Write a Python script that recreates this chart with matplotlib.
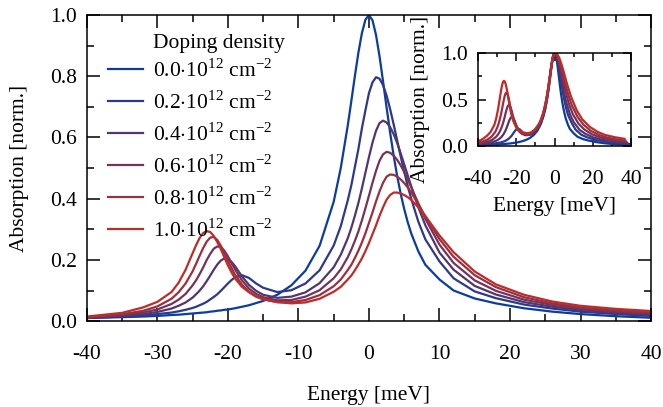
""" Absorption spectra vs doping density, with normalized inset """

import numpy as np
import matplotlib
matplotlib.use('Agg')
import matplotlib.pyplot as plt
from matplotlib.ticker import MultipleLocator, FormatStrFormatter
from matplotlib.colors import to_rgb

# Energy grid [meV] and absorption
energy = [-40, -35, -32, -30, -28, -27, -26, -25,
          -24.5, -24, -23.5, -23, -22.5, -22, -21.5, -21, -20.5, -20, -19.5,
          -19, -18, -17, -16, -15,
          -13, -11, -9, -7, -5, -4, -3,
          -2.5, -2, -1.5, -1, -0.5, 0, 0.5, 1, 1.5, 2, 2.5, 3, 3.5, 4, 4.5, 5, 5.5,
          6, 7, 8,
          10, 12, 15, 18, 22, 26, 30, 35, 40]

dens_00 = [0.010, 0.013, 0.015, 0.017, 0.020, 0.021, 0.023, 0.025,
           0.026, 0.027, 0.028, 0.029, 0.031, 0.032, 0.034, 0.035, 0.037, 0.038, 0.040,
           0.042, 0.047, 0.052, 0.059, 0.066,
           0.086, 0.117, 0.165, 0.246, 0.390, 0.500, 0.640,
           0.719, 0.800, 0.877, 0.941, 0.985, 1.000, 0.983, 0.935, 0.865, 0.783, 0.698,
           0.616, 0.541, 0.474, 0.416, 0.366, 0.323,
           0.286, 0.228, 0.184,
           0.136, 0.100, 0.074, 0.058, 0.042, 0.031, 0.023, 0.016, 0.011]
dens_02 = [0.010, 0.015, 0.019, 0.023, 0.028, 0.032, 0.037, 0.043,
           0.047, 0.052, 0.057, 0.063, 0.071, 0.079, 0.088, 0.099, 0.111, 0.123, 0.134,
           0.143, 0.150, 0.141, 0.123, 0.109,
           0.095, 0.101, 0.123, 0.166, 0.247, 0.310, 0.395,
           0.444, 0.503, 0.562, 0.630, 0.689, 0.745, 0.780, 0.797, 0.792, 0.771, 0.737,
           0.693, 0.643, 0.590, 0.538, 0.488, 0.441,
           0.399, 0.325, 0.267,
           0.195, 0.140, 0.097, 0.075, 0.054, 0.041, 0.031, 0.023, 0.017]
dens_04 = [0.011, 0.017, 0.023, 0.030, 0.041, 0.050, 0.061, 0.077,
           0.088, 0.100, 0.114, 0.131, 0.149, 0.168, 0.185, 0.198, 0.205, 0.203, 0.194,
           0.180, 0.146, 0.118, 0.099, 0.086,
           0.076, 0.080, 0.094, 0.124, 0.176, 0.217, 0.271,
           0.305, 0.344, 0.386, 0.434, 0.485, 0.536, 0.583, 0.622, 0.647, 0.655, 0.649,
           0.634, 0.611, 0.582, 0.548, 0.512, 0.476,
           0.440, 0.372, 0.313,
           0.224, 0.168, 0.115, 0.087, 0.062, 0.047, 0.036, 0.027, 0.021]
dens_06 = [0.012, 0.020, 0.028, 0.038, 0.056, 0.070, 0.089, 0.117,
           0.134, 0.154, 0.176, 0.200, 0.220, 0.237, 0.244, 0.242, 0.230, 0.212, 0.190,
           0.169, 0.133, 0.106, 0.089, 0.078,
           0.068, 0.069, 0.080, 0.101, 0.140, 0.169, 0.209,
           0.234, 0.262, 0.293, 0.329, 0.369, 0.410, 0.452, 0.491, 0.524, 0.545, 0.553,
           0.550, 0.541, 0.527, 0.509, 0.487, 0.463,
           0.437, 0.385, 0.334,
           0.250, 0.190, 0.133, 0.099, 0.070, 0.053, 0.041, 0.031, 0.025]
dens_08 = [0.013, 0.022, 0.034, 0.048, 0.073, 0.094, 0.123, 0.163,
           0.188, 0.214, 0.239, 0.260, 0.273, 0.275, 0.265, 0.246, 0.222, 0.197, 0.174,
           0.152, 0.119, 0.096, 0.081, 0.071,
           0.062, 0.062, 0.069, 0.085, 0.114, 0.136, 0.167,
           0.184, 0.206, 0.230, 0.257, 0.287, 0.321, 0.355, 0.391, 0.424, 0.452, 0.472,
           0.479, 0.478, 0.472, 0.463, 0.451, 0.437,
           0.420, 0.382, 0.342,
           0.268, 0.210, 0.150, 0.111, 0.078, 0.058, 0.045, 0.035, 0.029]
dens_10 = [0.015, 0.027, 0.045, 0.063, 0.095, 0.125, 0.168, 0.222,
           0.249, 0.272, 0.288, 0.294, 0.291, 0.278, 0.258, 0.235, 0.208, 0.182, 0.160,
           0.140, 0.112, 0.094, 0.080, 0.072,
           0.062, 0.058, 0.061, 0.073, 0.096, 0.112, 0.136,
           0.149, 0.166, 0.185, 0.205, 0.229, 0.255, 0.284, 0.313, 0.344, 0.372, 0.397,
           0.412, 0.420, 0.420, 0.417, 0.412, 0.405,
           0.396, 0.372, 0.343,
           0.280, 0.225, 0.162, 0.120, 0.086, 0.064, 0.050, 0.040, 0.033]

densities = ['0.0', '0.2', '0.4', '0.6', '0.8', '1.0']
spectra = [dens_00, dens_02, dens_04, dens_06, dens_08, dens_10]

plt.rcParams['font.family'] = ['Liberation Serif', 'DejaVu Serif']
plt.rcParams['mathtext.fontset'] = 'custom'
plt.rcParams['mathtext.rm'] = 'Liberation Serif'
plt.rcParams['font.size'] = 15.5
plt.rcParams['axes.unicode_minus'] = False
plt.rcParams['axes.linewidth'] = 1.1


def style_axes(ax, xmaj, xmin, ymaj, ymin, majlen, minlen):
    """ Inward ticks on all four sides """
    ax.xaxis.set_major_locator(MultipleLocator(xmaj))
    ax.xaxis.set_minor_locator(MultipleLocator(xmin))
    ax.yaxis.set_major_locator(MultipleLocator(ymaj))
    ax.yaxis.set_minor_locator(MultipleLocator(ymin))
    ax.yaxis.set_major_formatter(FormatStrFormatter('%.1f'))
    ax.tick_params(which='both', direction='in', top=True, right=True, width=1.1)
    ax.tick_params(which='major', length=majlen)
    ax.tick_params(which='minor', length=minlen)
    ax.tick_params(axis='x', pad=17)
    ax.tick_params(axis='y', pad=7)


# colours run from blue to red
c0 = np.array(to_rgb('#0b3c9f'))
c1 = np.array(to_rgb('#bc2d2a'))
colors = [c0 + (c1 - c0) * t for t in np.linspace(0, 1, len(spectra))]

fig = plt.figure(figsize=(6.63, 4.07), dpi=100)
ax = fig.add_axes([0.131, 0.211, 0.851, 0.752])

for dens, spec, col in zip(densities, spectra, colors):
    ax.plot(energy, spec, color=col, lw=1.6,
            label=dens + r'$\cdot$10$^{12}$ cm$^{-2}$')

ax.set_xlim(-40, 40)
ax.set_ylim(0, 1.0)
style_axes(ax, 10, 5, 0.2, 0.1, 9.5, 5)
ax.set_xlabel('Energy [meV]', labelpad=16)
ax.set_ylabel('Absorption [norm.]', labelpad=15)

leg = ax.legend(loc='upper left', bbox_to_anchor=(0.037, 0.857), frameon=False,
                handlelength=1.63, handletextpad=0.47, labelspacing=0.44,
                borderpad=0, borderaxespad=0)
ax.text(0.117, 0.908, 'Doping density', transform=ax.transAxes,
        ha='left', va='center')

# inset: each spectrum normalized to its maximum, centred on the main peak
ins = fig.add_axes([0.721, 0.641, 0.231, 0.229])
for spec, col in zip(spectra, colors):
    spec = np.array(spec)
    e_peak = energy[int(np.argmax(spec))]
    ins.plot(np.array(energy) - e_peak, spec / spec.max(), color=col, lw=1.6)
ins.set_xlim(-40, 40)
ins.set_ylim(0, 1.0)
style_axes(ins, 20, 10, 0.5, 0.25, 6, 3)
ins.set_xlabel('Energy [meV]', labelpad=6)
ins.set_ylabel('Absorption [norm.]', labelpad=8)

fig.savefig('out.png', dpi=100)
